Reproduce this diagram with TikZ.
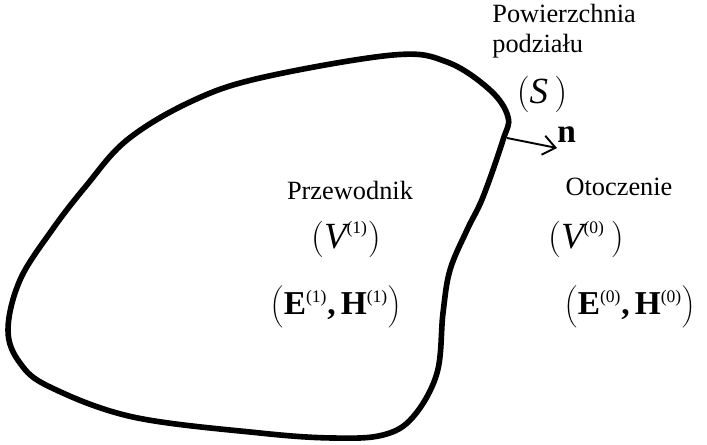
\documentclass[tikz,border=0pt]{standalone}
\usepackage{fontspec}
\setmainfont{Liberation Serif}
\usetikzlibrary{arrows.meta}
\newcommand{\idx}[1]{^{\hbox{\fontsize{10}{12}\selectfont(#1)}}}
\newcommand{\pstrut}[2]{\vrule height #1 depth #2 width 0pt}
\tikzset{
  txt/.style={inner sep=0pt, font=\fontsize{15}{17}\selectfont},
  mth/.style={inner sep=0pt, font=\fontsize{19}{22}\selectfont},
  mthit/.style={inner sep=0pt, font=\fontsize{21}{24}\selectfont},
}
\begin{document}
\begin{tikzpicture}[x=0.02cm,y=-0.02cm]
    \useasboundingbox (0,0) rectangle (707,444);
    % Conductor outline
    \draw[line width=3.2pt] plot[smooth cycle, tension=0.6] coordinates {
      (260,78) (393,55) (447,62) (490,90) (508,117) (503,140) (483,197)
      (467,230) (450,270) (443,313) (437,373) (413,417) (383,435) (333,438)
      (260,433) (133,417) (50,387) (20,363) (8,330) (20,280) (52,230)
      (86,186) (127,140) (190,102)};
    % Interface label
    \node[txt, align=left, anchor=west] (pow) at (492,31) {Powierzchnia\\podziału};
    \node[mthit] (S) at (542,94) {$(\textit{S}\,)$};
    % Normal vector
    \coordinate (nstart) at (507,138);
    \node[mth, anchor=west] (n) at (557,135) {\textbf{n}};
    \draw[line width=1.1pt, -{Straight Barb[length=7pt,width=11pt]}] (nstart) -- (n.west |- 0,148);
    % Conductor
    \node[txt] (przew) at (350,190) {Przewodnik};
    \node[mthit] (V1) at (346,239) {$\left(\pstrut{13pt}{4pt}\textit{V}\idx{1}\right)$};
    \node[mth] (EH1) at (336,307) {$\left(\pstrut{16pt}{5pt}\textbf{E}\idx{1}\textbf{,}\,\textbf{H}\idx{1}\right)$};
    % Surroundings
    \node[txt] (otocz) at (619,187) {Otoczenie};
    \node[mthit] (V0) at (586,239) {$\left(\pstrut{13pt}{4pt}\textit{V}\idx{0}\,\right)$};
    \node[mth] (EH0) at (630,307) {$\left(\pstrut{16pt}{5pt}\textbf{E}\idx{0}\textbf{,}\,\textbf{H}\idx{0}\right)$};
\end{tikzpicture}
\end{document}
